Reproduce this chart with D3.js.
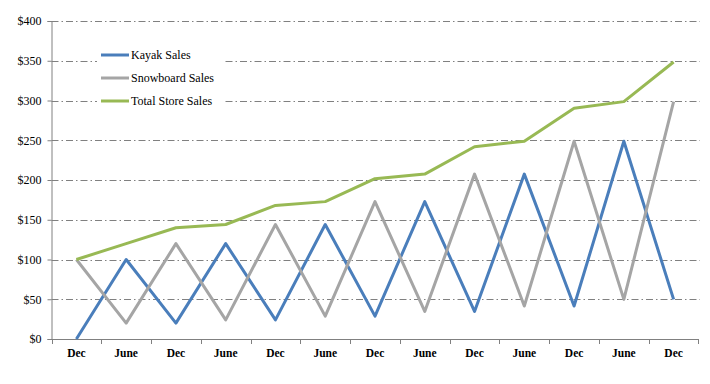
<!DOCTYPE html>
<html><head><meta charset="utf-8">
<script src="https://cdn.jsdelivr.net/npm/d3@7"></script>
<style>body{margin:0;background:#fff}
svg text{font-family:"Times New Roman","Liberation Serif",serif;}</style>
</head><body>
<script>
const categories = ["Dec","June","Dec","June","Dec","June","Dec","June","Dec","June","Dec","June","Dec"];
const kayak = [0,100,20,120,24,144,28.8,172.8,34.6,207.4,41.5,248.8,49.8];
const snowboard = [100,20,120,24,144,28.8,172.8,34.6,207.4,41.5,248.8,49.8,298.6];
const total = [100,120,140,144,168,172.8,201.6,207.4,241.9,248.8,290.3,298.6,348.4];
const yTicks = [0,50,100,150,200,250,300,350,400];
const seriesNames = ["Kayak Sales","Snowboard Sales","Total Store Sales"];
const colors = ["#4A7EBB","#A5A5A5","#98B954"];

const W=710,H=384;
const FF="serif";
const svg=d3.select("body").append("svg").attr("width",W).attr("height",H)
  .attr("font-family",FF);
const L=51.5,R=698.5,T=21,B=339;
const x=d3.scaleBand().domain(d3.range(categories.length)).range([L,R]);
const y=d3.scaleLinear().domain([0,400]).range([B,T]);

// gridlines
svg.append("g").selectAll("line").data(yTicks.filter(d=>d>0)).join("line")
  .attr("x1",L).attr("x2",700).attr("y1",d=>Math.round(y(d))+0.5).attr("y2",d=>Math.round(y(d))+0.5)
  .attr("stroke","#808080").attr("stroke-width",1).attr("stroke-dasharray","7,3,1.5,3");

// legend background
svg.append("rect").attr("x",97).attr("y",40).attr("width",126).attr("height",72).attr("fill","#fff");

// y axis
const ya=svg.append("g").attr("transform",`translate(${L},0)`)
  .call(d3.axisLeft(y).tickValues(yTicks).tickSize(4).tickPadding(6).tickFormat(d=>"$"+d));
ya.attr("font-family",FF);
ya.select(".domain").attr("stroke","#808080");
ya.selectAll(".tick line").attr("stroke","#808080");
ya.selectAll("text").attr("font-family",FF).attr("font-size",12).attr("fill","#000");

// x axis
const xa=svg.append("g").attr("transform",`translate(0,${B})`)
  .call(d3.axisBottom(x).tickFormat(i=>categories[i]).tickSize(0).tickPadding(10));
xa.attr("font-family",FF);
xa.select(".domain").attr("stroke","#808080").attr("d",`M${L},0.5H${R}`);
xa.selectAll(".tick line").remove();
xa.selectAll(".tick text").attr("font-family",FF).attr("font-size",11.5).attr("font-weight","bold").attr("fill","#000");
const bounds=d3.range(categories.length+1).map(i=>i<categories.length?x(i):x(categories.length-1)+x.bandwidth());
xa.selectAll(".bt").data(bounds).join("line").attr("class","bt")
  .attr("x1",d=>Math.round(d)+0.5).attr("x2",d=>Math.round(d)+0.5).attr("y1",0).attr("y2",5)
  .attr("stroke","#808080");

// lines
const cx=i=>x(i)+x.bandwidth()/2;
const line=d3.line().x((d,i)=>cx(i)).y(d=>y(d));
[kayak,snowboard,total].forEach((s,k)=>{
  svg.append("path").datum(s).attr("d",line).attr("fill","none")
    .attr("stroke",colors[k]).attr("stroke-width",3).attr("stroke-linejoin","round");
});

// legend
const lg=svg.append("g").attr("font-family",FF);
seriesNames.forEach((n,k)=>{
  const yy=55+k*23;
  lg.append("line").attr("x1",101).attr("x2",129).attr("y1",yy).attr("y2",yy)
    .attr("stroke",colors[k]).attr("stroke-width",3);
  lg.append("text").attr("x",131).attr("y",yy+4).text(n)
    .attr("font-family",FF).attr("font-size",12).attr("fill","#000");
});
</script>
</body></html>
